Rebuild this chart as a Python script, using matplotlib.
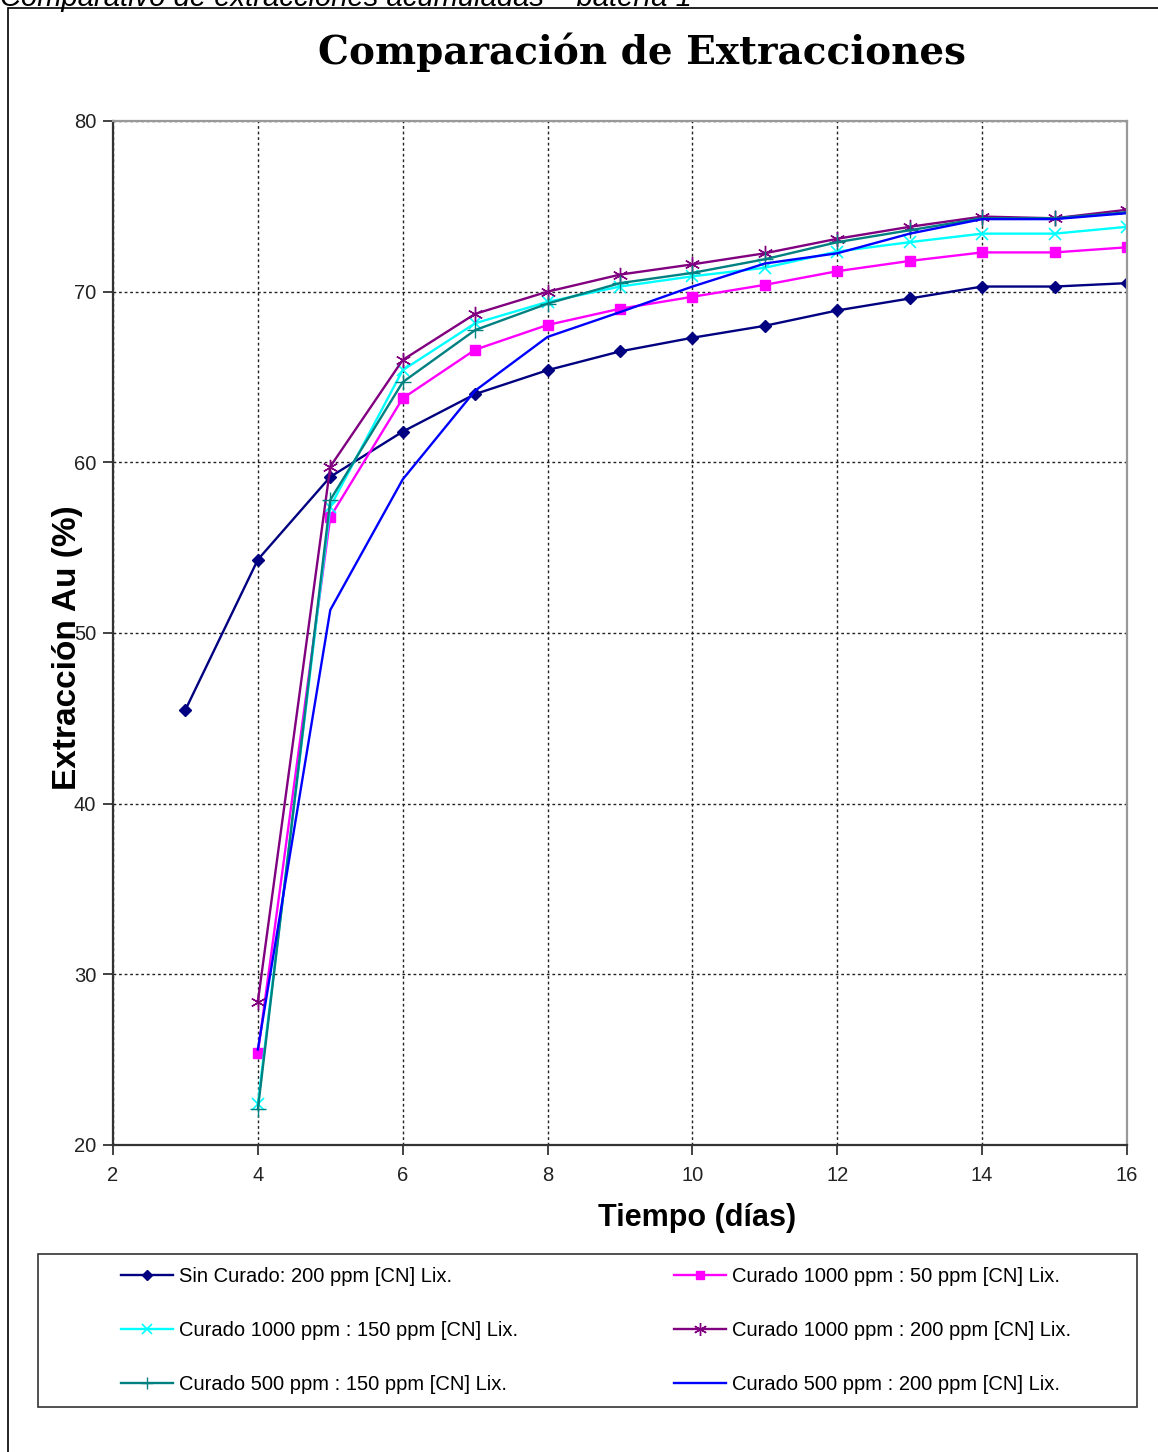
import numpy as np
import matplotlib
matplotlib.use("Agg")
import matplotlib.pyplot as plt
from matplotlib.patches import Rectangle

plt.rcParams['font.family'] = ['Liberation Sans', 'DejaVu Sans']

#%% data
dias = [4, 5, 6, 7, 8, 9, 10, 11, 12, 13, 14, 15, 16]
dias_sc = [3] + dias

sin_curado = [45.5, 54.3, 59.15, 61.8, 64.0, 65.4, 66.5, 67.3, 68.0, 68.9, 69.6, 70.3, 70.3, 70.5]
c1000_50 = [25.4, 56.8, 63.75, 66.6, 68.05, 69.0, 69.7, 70.4, 71.2, 71.8, 72.3, 72.3, 72.6]
c1000_150 = [22.4, 57.4, 65.4, 68.15, 69.4, 70.3, 70.9, 71.4, 72.35, 72.9, 73.4, 73.4, 73.8]
c1000_200 = [28.4, 59.75, 66.0, 68.7, 70.0, 71.0, 71.6, 72.25, 73.1, 73.8, 74.4, 74.3, 74.8]
c500_150 = [22.1, 57.8, 64.7, 67.75, 69.3, 70.5, 71.1, 71.9, 72.9, 73.6, 74.3, 74.3, 74.65]
c500_200 = [25.6, 51.35, 59.0, 64.2, 67.35, 68.8, 70.3, 71.65, 72.25, 73.4, 74.25, 74.25, 74.6]

labels = ["Sin Curado: 200 ppm [CN] Lix.",
          "Curado 1000 ppm : 50 ppm [CN] Lix.",
          "Curado 1000 ppm : 150 ppm [CN] Lix.",
          "Curado 1000 ppm : 200 ppm [CN] Lix.",
          "Curado 500 ppm : 150 ppm [CN] Lix.",
          "Curado 500 ppm : 200 ppm [CN] Lix."]

#%% figure
W, H = 1158, 1452
fig = plt.figure(figsize=(W / 100, H / 100), dpi=100)

def fx(px):
    return px / W

def fy(py):
    return 1 - py / H

# frame around the chart area and cut caption on top
fig.patches.append(Rectangle((fx(8), fy(1500)), 1.2, fy(8) - fy(1500),
                             transform=fig.transFigure, fill=False,
                             edgecolor='black', linewidth=1.2))
fig.text(fx(0), fy(5.5), u"Comparativo de extracciones acumuladas \u2013 bater\u00eda 1",
         fontsize=21, style='italic', va='baseline', ha='left')

ax = fig.add_axes([fx(113), fy(1145), fx(1127) - fx(113), fy(121) - fy(1145)])

lw = 1.7
h1, = ax.plot(dias_sc, sin_curado, color='#000080', marker='D', markersize=6.5, linewidth=lw)
h2, = ax.plot(dias, c1000_50, color='#FF00FF', marker='s', markersize=7.5, linewidth=lw)
h3, = ax.plot(dias, c1000_150, color='#00FFFF', marker='x', markersize=9, markeredgewidth=1.2, linewidth=lw)
h4, = ax.plot(dias, c1000_200, color='#800080', marker=(6, 2, 0), markersize=11, markeredgewidth=1.0, linewidth=lw)
h5, = ax.plot(dias, c500_150, color='#008080', marker='+', markersize=11, markeredgewidth=1.0, linewidth=lw)
h6, = ax.plot(dias, c500_200, color='#0000FF', linewidth=lw)

ax.set_xlim(2, 16)
ax.set_ylim(20, 80)
ax.set_xticks(np.arange(2, 17, 2))
ax.set_yticks(np.arange(20, 81, 10))
ax.tick_params(axis='both', direction='out', length=7, width=1.2, labelsize=14.5,
               colors='#222222')
ax.tick_params(axis='x', pad=8)
ax.tick_params(axis='y', pad=5)
ax.grid(True, color='#222222', linestyle=(0, (2, 2)), linewidth=1.0)
for s in ['left', 'bottom']:
    ax.spines[s].set_color('#333333')
    ax.spines[s].set_linewidth(1.6)
for s in ['top', 'right']:
    ax.spines[s].set_color('#999999')
    ax.spines[s].set_linewidth(1.6)

fig.text(fx(642), fy(52), u"Comparación de Extracciones", family='DejaVu Serif',
         fontweight='heavy', fontsize=28, ha='center', va='center')
fig.text(fx(697), fy(1218), u"Tiempo (días)", fontweight='bold', fontsize=22,
         ha='center', va='center')
fig.text(fx(68), fy(648), u"Extracción Au (%)", fontweight='bold', fontsize=24,
         ha='center', va='center', rotation=90)

# legend box
fig.patches.append(Rectangle((fx(38), fy(1407)), fx(1137) - fx(38), fy(1254) - fy(1407),
                             transform=fig.transFigure, fill=False,
                             edgecolor='#333333', linewidth=1.2))
handles = [h1, h3, h5, h2, h4, h6]
labs = [labels[0], labels[2], labels[4], labels[1], labels[3], labels[5]]
fig.legend(handles, labs, ncol=2, loc='upper left', bbox_to_anchor=(fx(121), fy(1267)),
           frameon=False, fontsize=14.5, borderpad=0, borderaxespad=0,
           handlelength=2.6, handletextpad=0.3, columnspacing=7.7,
           labelspacing=1.75, markerscale=0.85)

fig.savefig("out.png", dpi=100)
